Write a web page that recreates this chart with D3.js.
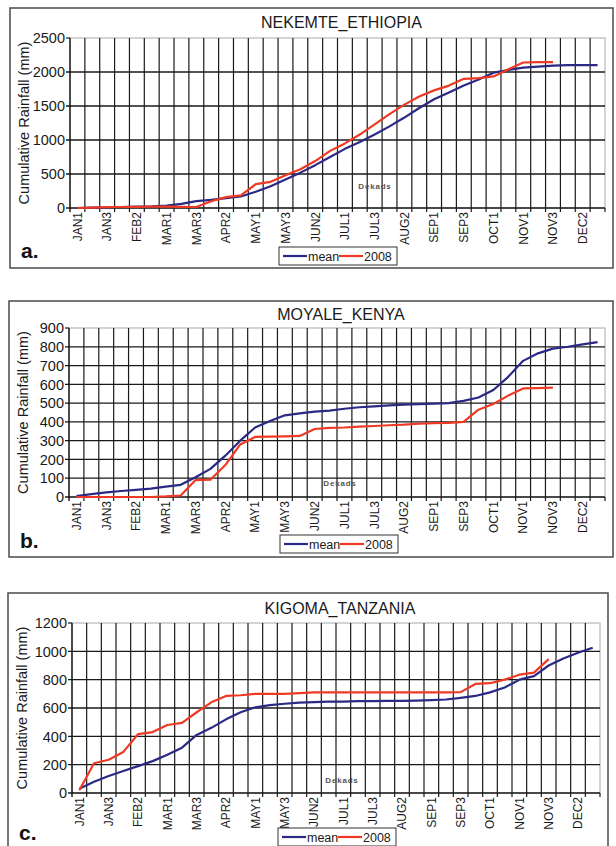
<!DOCTYPE html>
<html>
<head>
<meta charset="utf-8">
<script src="https://cdn.jsdelivr.net/npm/d3@7"></script>
<style>
  html, body { margin: 0; padding: 0; background: #fff; }
  svg { display: block; font-family: "Liberation Sans", Arial, sans-serif; }
</style>
</head>
<body>
<svg id="chart" width="616" height="846"></svg>
<script>
// ---------- data ----------
const dekads = ["JAN1","JAN2","JAN3","FEB1","FEB2","FEB3","MAR1","MAR2","MAR3","APR1","APR2","APR3",
  "MAY1","MAY2","MAY3","JUN1","JUN2","JUN3","JUL1","JUL2","JUL3","AUG1","AUG2","AUG3",
  "SEP1","SEP2","SEP3","OCT1","OCT2","OCT3","NOV1","NOV2","NOV3","DEC1","DEC2","DEC3"];
const tickLabels = ["JAN1","JAN3","FEB2","MAR1","MAR3","APR2","MAY1","MAY3","JUN2","JUL1",
  "JUL3","AUG2","SEP1","SEP3","OCT1","NOV1","NOV3","DEC2"];
const seriesNames = ["mean", "2008"];

const nekemteMean = [0, 5, 10, 15, 20, 25, 35, 60, 100, 120, 145, 170, 240, 320, 420, 520, 630, 750,
  870, 970, 1080, 1200, 1330, 1470, 1600, 1700, 1800, 1890, 1990, 2030, 2065, 2080, 2095, 2100, 2100, 2100];
const nekemte2008 = [0, 5, 12, 15, 18, 20, 20, 18, 15, 100, 160, 185, 350, 385, 480, 570, 690, 840,
  950, 1080, 1230, 1380, 1520, 1640, 1730, 1800, 1900, 1910, 1935, 2040, 2140, 2145, 2145];
const nekemteTicks = [0, 500, 1000, 1500, 2000, 2500];

const moyaleMean = [5, 15, 25, 32, 38, 45, 55, 65, 105, 150, 220, 300, 370, 405, 435, 445, 455, 460,
  470, 478, 483, 488, 492, 495, 497, 500, 512, 530, 570, 640, 725, 765, 790, 800, 813, 825];
const moyale2008 = [0, 0, 0, 0, 0, 0, 3, 8, 90, 92, 170, 280, 320, 322, 323, 325, 362, 368,
  370, 375, 378, 382, 385, 390, 393, 395, 400, 465, 495, 540, 578, 580, 582];
const moyaleTicks = [0, 100, 200, 300, 400, 500, 600, 700, 800, 900];

const kigomaMean = [30, 80, 120, 155, 190, 225, 270, 320, 410, 460, 520, 570, 605, 620, 630, 638, 642, 645,
  645, 648, 648, 650, 650, 652, 655, 660, 672, 685, 710, 745, 800, 825, 900, 950, 990, 1025];
const kigoma2008 = [20, 210, 235, 290, 415, 430, 480, 495, 570, 640, 685, 690, 700, 700, 700, 705, 710, 710,
  710, 710, 710, 710, 710, 710, 710, 710, 712, 770, 775, 800, 835, 850, 945];
const kigomaTicks = [0, 200, 400, 600, 800, 1000, 1200];

// ---------- layout ----------
const panels = [
  { title: "NEKEMTE_ETHIOPIA", letter: "a.", mean: nekemteMean, y2008: nekemte2008, ticks: nekemteTicks,
    frame: [10, 8, 613, 268], plot: [70, 38, 605, 208], titleY: 28, legendY: 247, legendX: 279, letterY: 258, dek: [375, 189] },
  { title: "MOYALE_KENYA", letter: "b.", mean: moyaleMean, y2008: moyale2008, ticks: moyaleTicks,
    frame: [9, 301, 613, 557], plot: [69, 328, 605, 497], titleY: 320, legendY: 535, legendX: 280, letterY: 548, dek: [340, 486] },
  { title: "KIGOMA_TANZANIA", letter: "c.", mean: kigomaMean, y2008: kigoma2008, ticks: kigomaTicks,
    frame: [8, 593, 608, 870], plot: [72, 623, 600, 793], titleY: 614, legendY: 828, legendX: 278, letterY: 840, dek: [342, 783] }
];

const NAVY = "#2a2a86";
const RED = "#ee3a24";
const svg = d3.select("#chart");

panels.forEach(p => {
  const g = svg.append("g");
  const [fx0, fy0, fx1, fy1] = p.frame;
  const [L, T, R, B] = p.plot;

  g.append("rect").attr("x", fx0).attr("y", fy0).attr("width", fx1 - fx0).attr("height", fy1 - fy0)
    .attr("fill", "#fff").attr("stroke", "#4a4a4a").attr("stroke-width", 1.5);

  const x = d3.scaleBand().domain(d3.range(dekads.length)).range([L, R]).padding(0);
  const xb = d3.scaleLinear().domain([0, dekads.length]).range([L, R]);
  const yMax = p.ticks[p.ticks.length - 1];
  const y = d3.scaleLinear().domain([0, yMax]).range([B, T]);

  // plot area border (light)
  g.append("rect").attr("x", L).attr("y", T).attr("width", R - L).attr("height", B - T)
    .attr("fill", "none").attr("stroke", "#b8b8b8").attr("stroke-width", 1.2);

  // horizontal gridlines + y ticks
  g.append("g").selectAll("line").data(p.ticks.filter(t => t < yMax)).join("line")
    .attr("x1", L - 4).attr("x2", R).attr("y1", d => y(d)).attr("y2", d => y(d))
    .attr("stroke", "#1a1a1a").attr("stroke-width", 1.3);
  g.append("line").attr("x1", L - 4).attr("x2", L).attr("y1", T).attr("y2", T)
    .attr("stroke", "#1a1a1a").attr("stroke-width", 1.2);

  // vertical gridlines with ticks below the axis
  g.append("g").selectAll("line").data(d3.range(1, dekads.length)).join("line")
    .attr("x1", d => xb(d)).attr("x2", d => xb(d)).attr("y1", T).attr("y2", B + 4)
    .attr("stroke", "#1a1a1a").attr("stroke-width", 1.2);
  g.append("line").attr("x1", xb(dekads.length)).attr("x2", xb(dekads.length)).attr("y1", B).attr("y2", B + 4)
    .attr("stroke", "#1a1a1a").attr("stroke-width", 1.2);

  // y axis line
  g.append("line").attr("x1", L).attr("x2", L).attr("y1", T).attr("y2", B + 4)
    .attr("stroke", "#111").attr("stroke-width", 1.4);

  // y tick labels
  g.append("g").selectAll("text").data(p.ticks).join("text")
    .attr("x", L - 5).attr("y", d => y(d)).attr("dy", "0.36em")
    .attr("text-anchor", "end").attr("font-size", 14.5).attr("fill", "#1a1a1a")
    .text(d => d);

  // x tick labels (every other dekad)
  g.append("g").selectAll("text").data(d3.range(0, dekads.length, 2)).join("text")
    .attr("transform", d => `translate(${x(d) + x.bandwidth() / 2},${B + 4}) rotate(-90)`)
    .attr("dy", "0.36em").attr("text-anchor", "end").attr("font-size", 12).attr("fill", "#1a1a1a")
    .text(d => tickLabels[d / 2]);

  // y axis title
  g.append("text")
    .attr("transform", `translate(${fx0 + 14},${(T + B) / 2}) rotate(-90)`)
    .attr("dy", "0.36em").attr("text-anchor", "middle").attr("font-size", 14.5).attr("fill", "#1a1a1a")
    .text("Cumulative Rainfall (mm)");

  // title
  g.append("text").attr("x", (L + R) / 2 + 4).attr("y", p.titleY).attr("text-anchor", "middle")
    .attr("font-size", 16).attr("fill", "#1a1a1a").text(p.title);

  // "Dekads"
  g.append("text").attr("x", p.dek[0]).attr("y", p.dek[1]).attr("text-anchor", "middle")
    .attr("font-size", 8).attr("font-weight", "bold").attr("letter-spacing", 0.8).attr("fill", "#555").text("Dekads");

  // lines
  const line = d3.line().x((d, i) => x(i) + x.bandwidth() / 2).y(d => y(d));
  g.append("path").datum(p.mean).attr("d", line).attr("fill", "none")
    .attr("stroke", NAVY).attr("stroke-width", 2.2).attr("stroke-linejoin", "round");
  g.append("path").datum(p.y2008).attr("d", line).attr("fill", "none")
    .attr("stroke", RED).attr("stroke-width", 2.2).attr("stroke-linejoin", "round");

  // legend
  const lx = p.legendX, ly = p.legendY;
  const lg = g.append("g");
  lg.append("rect").attr("x", lx).attr("y", ly).attr("width", 118).attr("height", 18)
    .attr("fill", "#fff").attr("stroke", "#333").attr("stroke-width", 1);
  const items = [{ name: seriesNames[0], color: NAVY, dx: 4 }, { name: seriesNames[1], color: RED, dx: 60 }];
  items.forEach(it => {
    lg.append("line").attr("x1", lx + it.dx).attr("x2", lx + it.dx + 24).attr("y1", ly + 9).attr("y2", ly + 9)
      .attr("stroke", it.color).attr("stroke-width", 2.2);
    lg.append("text").attr("x", lx + it.dx + 25).attr("y", ly + 9).attr("dy", "0.36em")
      .attr("font-size", 12.5).attr("fill", "#1a1a1a").text(it.name);
  });

  // panel letter
  g.append("text").attr("x", fx0 + 11).attr("y", p.letterY).attr("font-size", 21).attr("font-weight", "bold")
    .attr("fill", "#111").text(p.letter);
});
</script>
</body>
</html>
